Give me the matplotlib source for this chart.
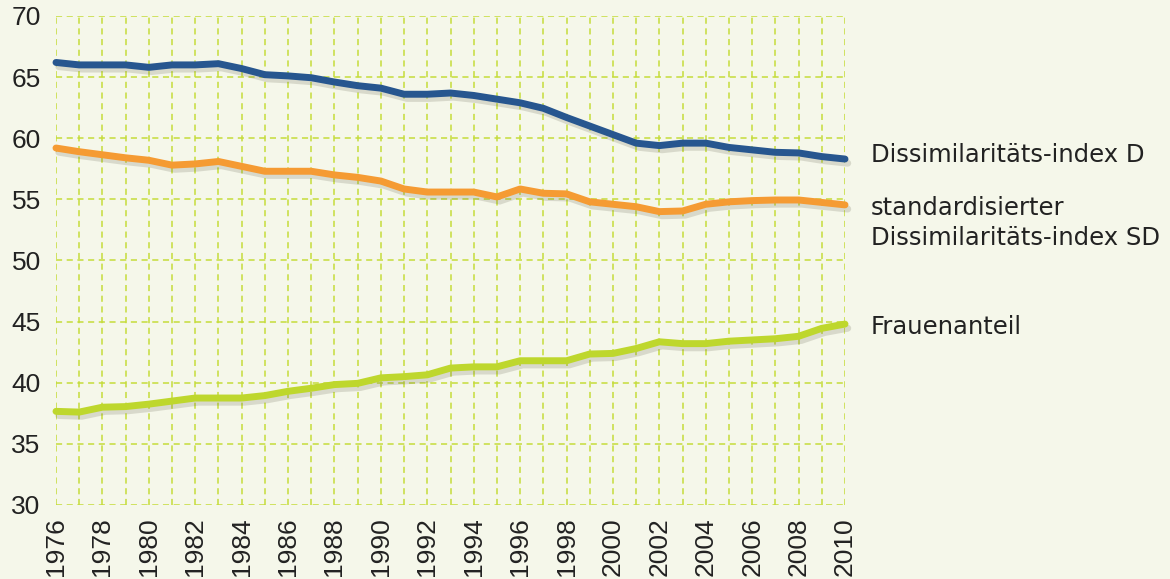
import matplotlib
matplotlib.use("Agg")
import matplotlib.pyplot as plt
import matplotlib.patheffects as pe

years = list(range(1976, 2011))

# Dissimilaritäts-index D
index_d = [66.2, 66.0, 66.0, 66.0, 65.8, 66.0, 66.0, 66.1, 65.7, 65.2,
           65.1, 64.95, 64.6, 64.3, 64.1, 63.6, 63.6, 63.7, 63.5, 63.2,
           62.9, 62.45, 61.7, 61.0, 60.3, 59.6, 59.4, 59.6, 59.6, 59.25,
           59.05, 58.85, 58.8, 58.5, 58.3]

# standardisierter Dissimilaritäts-index SD
index_sd = [59.2, 58.9, 58.65, 58.4, 58.2, 57.8, 57.9, 58.1, 57.7, 57.3,
            57.3, 57.3, 57.0, 56.8, 56.5, 55.85, 55.6, 55.6, 55.6, 55.2,
            55.85, 55.5, 55.45, 54.8, 54.6, 54.4, 54.0, 54.05, 54.6, 54.8,
            54.9, 54.95, 54.95, 54.75, 54.55]

# Frauenanteil
frauen = [37.66, 37.6, 38.0, 38.05, 38.25, 38.5, 38.75, 38.75, 38.75, 38.95,
          39.3, 39.55, 39.85, 39.95, 40.4, 40.5, 40.65, 41.2, 41.3, 41.3,
          41.8, 41.8, 41.8, 42.35, 42.4, 42.8, 43.35, 43.2, 43.2, 43.4,
          43.5, 43.6, 43.8, 44.45, 44.8]

series = [index_d, index_sd, frauen]
colors = ["#27568f", "#f59b33", "#bed72d"]

# right-hand labels, one entry per text line
label_lines = ["Dissimilaritäts-index D", "standardisierter",
               "Dissimilaritäts-index SD", "Frauenanteil"]
label_pos = [58.63, 54.3, 51.84, 44.56]

bg = "#f5f7ea"
grid_color = "#c5dc3a"
tick_font = ["Liberation Sans", "DejaVu Sans"]
label_font = ["DejaVu Sans Condensed", "DejaVu Sans"]

fig = plt.figure(figsize=(11.70, 5.79), dpi=100, facecolor=bg)
ax = fig.add_axes([56 / 1170, 1 - 505 / 579, 789 / 1170, 489 / 579])
ax.set_facecolor(bg)

shadow = [pe.SimpleLineShadow(offset=(2, -3), shadow_color="#55553f", alpha=0.18),
          pe.Normal()]

for vals, col in zip(series, colors):
    ax.plot(years, vals, color=col, lw=5, solid_capstyle="round",
            solid_joinstyle="round", clip_on=False, zorder=3,
            path_effects=shadow)

ax.set_xlim(1976, 2010)
ax.set_ylim(30, 70)
ax.set_xticks(years)
ax.set_xticklabels([str(y) if (y - 1976) % 2 == 0 else "" for y in years],
                   rotation=90, fontsize=19, family=tick_font, color="#222222")
ax.set_yticks(range(30, 71, 5))
ax.set_yticklabels([str(v) for v in range(30, 71, 5)],
                   fontsize=19, family=tick_font, color="#222222")
ax.tick_params(axis="y", length=0, pad=11)
ax.tick_params(axis="x", length=0, pad=9)
for s in ax.spines.values():
    s.set_visible(False)
ax.grid(True, color=grid_color, linestyle=(0, (4, 3)), lw=1.1, zorder=1)
ax.set_axisbelow(True)

for txt, yv in zip(label_lines, label_pos):
    ax.text(2011.1, yv, txt, fontsize=17.5, family=label_font, color="#222222",
            va="center", ha="left", clip_on=False)

fig.savefig("out.png", dpi=100, facecolor=bg)
